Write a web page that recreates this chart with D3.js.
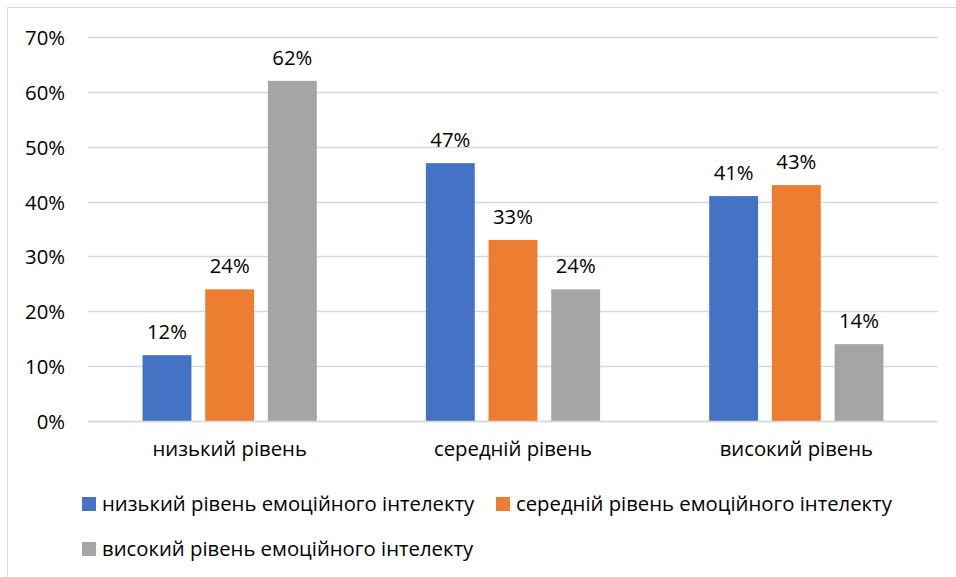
<!DOCTYPE html>
<html>
<head>
<meta charset="utf-8">
<script src="https://cdn.jsdelivr.net/npm/d3@7"></script>
<style>
  html, body { margin: 0; padding: 0; background: #fff; }
  svg text { font-family: "Open Sans", "Noto Sans", sans-serif; fill: #000; }
</style>
</head>
<body>
<svg id="chart" width="956" height="577"></svg>
<script>
const categories = ["низький рівень", "середній рівень", "високий рівень"];
const seriesNames = [
  "низький рівень емоційного інтелекту",
  "середній рівень емоційного інтелекту",
  "високий рівень емоційного інтелекту"
];
const lowEI = [12, 47, 41];
const midEI = [24, 33, 43];
const highEI = [62, 24, 14];
const yTicks = [0, 10, 20, 30, 40, 50, 60, 70];
const colors = ["#4472C4", "#ED7D31", "#A5A5A5"];

const seriesValues = [lowEI, midEI, highEI];
const svg = d3.select("#chart");
const FONT = "'Open Sans', 'Noto Sans', sans-serif";
const FS = 20.3;

// chart frame (top and left edges visible)
svg.append("path")
  .attr("d", "M7.5,577 L7.5,7.5 L956,7.5")
  .attr("fill", "none").attr("stroke", "#D9D9D9").attr("stroke-width", 1);

const plot = { left: 88, right: 938, top: 37, bottom: 421 };

const y = d3.scaleLinear().domain([0, 70]).range([plot.bottom, plot.top]);
const x0 = d3.scaleBand().domain(categories).range([plot.left, plot.right])
  .paddingInner(0.385).paddingOuter(0.1925);
const x1 = d3.scaleBand().domain(d3.range(3)).range([0, x0.bandwidth()])
  .paddingInner(0.22).paddingOuter(0);

// gridlines
svg.append("g").selectAll("line").data(yTicks).join("line")
  .attr("x1", plot.left).attr("x2", plot.right)
  .attr("y1", d => Math.round(y(d)) + 0.5).attr("y2", d => Math.round(y(d)) + 0.5)
  .attr("stroke", "#D9D9D9").attr("stroke-width", 1.5);

// y axis labels
const yAxis = d3.axisLeft(y).tickValues(yTicks).tickFormat(d => d + "%").tickSize(0).tickPadding(0);
const gy = svg.append("g").attr("transform", "translate(65,1)").call(yAxis);
gy.select(".domain").remove();
gy.selectAll("text").attr("font-size", FS).attr("font-family", FONT).attr("fill", "#000");

// x axis labels
const xAxis = d3.axisBottom(x0).tickSize(0).tickPadding(0);
const gx = svg.append("g").attr("transform", `translate(0,${plot.bottom + 21})`).call(xAxis);
gx.select(".domain").remove();
gx.selectAll("text").attr("font-size", FS).attr("font-family", FONT).attr("fill", "#000");

// bars
const groups = svg.append("g").selectAll("g").data(categories).join("g")
  .attr("transform", d => `translate(${x0(d)},0)`);

groups.each(function(cat, ci) {
  const g = d3.select(this);
  const vals = seriesValues.map((s, si) => ({ si, v: s[ci] }));
  g.selectAll("rect").data(vals).join("rect")
    .attr("x", d => x1(d.si))
    .attr("y", d => y(d.v))
    .attr("width", x1.bandwidth())
    .attr("height", d => y(0) - y(d.v))
    .attr("fill", d => colors[d.si]);
  g.selectAll("text").data(vals).join("text")
    .attr("x", d => x1(d.si) + x1.bandwidth() / 2)
    .attr("y", d => y(d.v) - 16)
    .attr("text-anchor", "middle")
    .attr("font-size", FS)
    .text(d => d.v + "%");
});

// baseline
svg.append("line")
  .attr("x1", plot.left).attr("x2", plot.right)
  .attr("y1", plot.bottom + 0.5).attr("y2", plot.bottom + 0.5)
  .attr("stroke", "#D9D9D9").attr("stroke-width", 1.5);

// legend
const legendItems = [
  { i: 0, x: 82, y: 497 },
  { i: 1, x: 496, y: 497 },
  { i: 2, x: 82, y: 542 }
];
const lg = svg.append("g").selectAll("g").data(legendItems).join("g")
  .attr("transform", d => `translate(${d.x},${d.y})`);
lg.append("rect").attr("width", 14).attr("height", 14).attr("fill", d => colors[d.i]);
lg.append("text").attr("x", 20).attr("y", 14).attr("font-size", FS)
  .text(d => seriesNames[d.i]);
</script>
</body>
</html>
